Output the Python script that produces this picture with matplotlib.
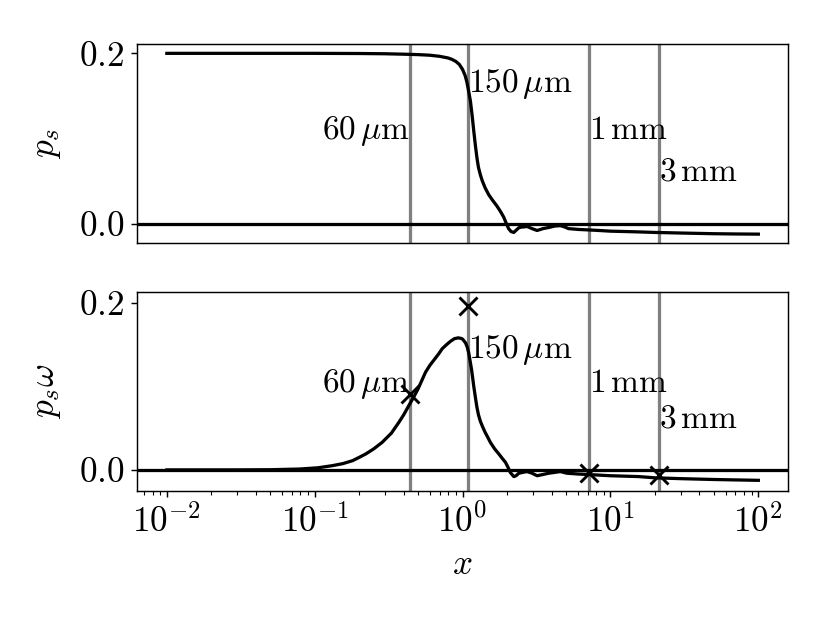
import numpy as np
import matplotlib
matplotlib.use("Agg")
import matplotlib.pyplot as plt

plt.rcParams["font.family"] = "serif"
plt.rcParams["font.serif"] = ["cmr10"]
plt.rcParams["mathtext.fontset"] = "cm"
plt.rcParams["axes.formatter.use_mathtext"] = True
plt.rcParams["font.size"] = 19.5

# p_s(x)
x_ps = [0.01, 0.03, 0.1, 0.2, 0.3, 0.4, 0.5, 0.6, 0.7, 0.8, 0.85, 0.9, 0.95, 1.0,
        1.04, 1.07, 1.1, 1.13, 1.16, 1.19, 1.22, 1.25, 1.28, 1.32, 1.36, 1.42,
        1.5, 1.6, 1.7, 1.76, 1.82, 1.9, 1.97, 2.05, 2.13, 2.22, 2.3, 2.4, 2.5,
        2.6, 2.73, 2.95, 3.19, 3.5, 3.82, 4.2, 4.58, 4.9, 5.2, 6.1, 7.0, 8.0, 10,
        15, 20, 30, 50, 70, 100]
ps = [0.2, 0.2, 0.2, 0.1998, 0.1995, 0.199, 0.1985, 0.1978, 0.1965, 0.1945,
      0.1928, 0.1905, 0.187, 0.181, 0.174, 0.166, 0.155, 0.1437, 0.127, 0.1087,
      0.092, 0.0773, 0.066, 0.057, 0.05, 0.042, 0.034, 0.027, 0.021, 0.017,
      0.013, 0.0073, 0.0005, -0.0062, -0.0095, -0.0105, -0.008, -0.005, -0.0042,
      -0.004, -0.0035, -0.006, -0.0082, -0.006, -0.0047, -0.003, -0.0025, -0.004,
      -0.006, -0.007, -0.0075, -0.008, -0.009, -0.0098, -0.0105, -0.0112,
      -0.012, -0.0123, -0.0125]

# p_s * omega(x)
x_psw = [0.01, 0.03, 0.05, 0.0785, 0.105, 0.131, 0.155, 0.18, 0.2, 0.221, 0.25,
         0.286, 0.33, 0.371, 0.4, 0.433, 0.47, 0.5, 0.53, 0.562, 0.6, 0.65, 0.69,
         0.728, 0.78, 0.83, 0.88, 0.933, 0.97, 1.0, 1.047, 1.075, 1.10, 1.125,
         1.15, 1.17, 1.19, 1.22, 1.25, 1.28, 1.32, 1.37, 1.42, 1.48, 1.54, 1.65,
         1.76, 1.85, 1.95, 2.03, 2.1, 2.22, 2.3, 2.40, 2.55, 2.73, 2.95, 3.19,
         3.5, 3.82, 4.2, 4.58, 5.08, 6.1, 7.0, 10, 15.5, 20, 30, 50, 70, 100]
psw = [0.0, 0.0, 0.0002, 0.001, 0.0025, 0.005, 0.0075, 0.011, 0.015, 0.019,
       0.025, 0.033, 0.044, 0.057, 0.066, 0.077, 0.088, 0.097, 0.107, 0.117,
       0.125, 0.133, 0.139, 0.145, 0.150, 0.154, 0.157, 0.158, 0.1575, 0.1565,
       0.152, 0.147, 0.14, 0.13, 0.12, 0.11, 0.1, 0.087, 0.075, 0.066, 0.058,
       0.051, 0.045, 0.039, 0.033, 0.025, 0.019, 0.014, 0.009, 0.003, -0.003,
       -0.008, -0.007, -0.004, -0.003, -0.002, -0.004, -0.007, -0.0055, -0.004,
       -0.003, -0.002, -0.004, -0.005, -0.0055, -0.007, -0.008, -0.0095, -0.0105,
       -0.0115, -0.012, -0.0125]

# vertical markers (length scales) and crosses on the bottom panel
scale_x = [0.44, 1.08, 7.15, 21.3]
scale_labels = [r"$60\,\mu\mathrm{m}$", r"$150\,\mu\mathrm{m}$",
                r"$1\,\mathrm{mm}$", r"$3\,\mathrm{mm}$"]
cross_y = [0.091, 0.196, -0.004, -0.006]
label_y_top = [0.109, 0.1635, 0.109, 0.060]
label_y_bot = [0.103, 0.144, 0.103, 0.061]
label_ha = ["right", "left", "left", "left"]

fig, (ax1, ax2) = plt.subplots(2, 1, sharex=True, figsize=(6.4, 4.8), dpi=130)
fig.subplots_adjust(left=0.165, right=0.947, top=0.929, bottom=0.2135, hspace=0.245)

for ax, ys, xs, ly in ((ax1, ps, x_ps, label_y_top), (ax2, psw, x_psw, label_y_bot)):
    for xv in scale_x:
        ax.axvline(xv, color="gray", linewidth=1.8, zorder=1)
    ax.axhline(0, color="k", linewidth=1.8, zorder=2)
    ax.plot(xs, ys, color="k", linewidth=1.8, zorder=3)
    for xv, lab, yv, ha in zip(scale_x, scale_labels, ly, label_ha):
        ax.text(xv, yv, lab, ha=ha, va="center", fontsize=18.5)

ax2.plot(scale_x, cross_y, "x", color="k", markersize=10, markeredgewidth=1.6, zorder=4)

ax1.set_xscale("log")
ax1.tick_params(axis="x", which="both", bottom=False, labelbottom=False)
ax1.set_yticks([0.0, 0.2])
ax2.set_yticks([0.0, 0.2])
ax2.set_ylim(-0.025, 0.213)
ax1.set_ylabel(r"$p_s$", labelpad=9)
ax2.set_ylabel(r"$p_s\omega$", labelpad=9)
ax2.set_xlabel(r"$x$", labelpad=6)

fig.savefig("out.png", dpi=130)
